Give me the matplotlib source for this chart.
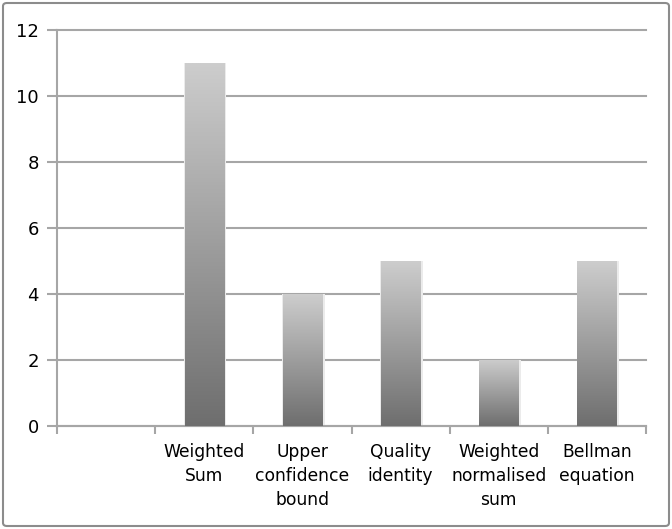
import numpy as np
import matplotlib.pyplot as plt
from matplotlib.patches import FancyBboxPatch
from matplotlib.colors import LinearSegmentedColormap

# Data
categories = ['', 'Weighted\nSum', 'Upper\nconfidence\nbound', 'Quality\nidentity',
              'Weighted\nnormalised\nsum', 'Bellman\nequation']
values = [0, 11, 4, 5, 2, 5]

plt.rcParams['font.family'] = 'DejaVu Sans'

fig = plt.figure(figsize=(6.72, 5.29), dpi=100)
ax = fig.add_axes([57 / 672, 1 - 426 / 529, (646 - 57) / 672, (426 - 30) / 529])

grid_col = '#a6a6a6'
cmap = LinearSegmentedColormap.from_list('bar', ['#6e6e6e', '#cdcdcd'])
grad = np.linspace(0, 1, 256).reshape(-1, 1)

x = np.arange(len(categories)) + 0.5
width = 0.4
for xi, v in zip(x, values):
    if v <= 0:
        continue
    # soft shadow
    ax.bar(xi + 0.01, v, width=width + 0.03, color='#ebebeb', zorder=2, linewidth=0)
    rect = ax.bar(xi, v, width=width, color='none', zorder=3, linewidth=0)[0]
    im = ax.imshow(grad, cmap=cmap, aspect='auto', origin='lower',
                   extent=[xi - width / 2, xi + width / 2, 0, v], zorder=3)
    im.set_clip_path(rect)

ax.set_xlim(0, 6)
ax.set_ylim(0, 12)
ax.set_yticks(np.arange(0, 13, 2))
ax.yaxis.grid(True, color=grid_col, linewidth=1.5)
for gl in ax.get_ygridlines():
    gl.set_clip_on(False)
ax.set_axisbelow(True)

ax.set_xticks(np.arange(0, 7))
ax.set_xticklabels([])
ax.set_xticks(x, minor=True)
ax.set_xticklabels(categories, minor=True, fontsize=12.3, linespacing=1.45)
ax.tick_params(axis='x', which='minor', length=0, pad=12)
ax.tick_params(axis='x', which='major', length=6, width=1.5, color=grid_col)
ax.tick_params(axis='y', length=7, width=1.5, color=grid_col, labelsize=13, pad=6)

for s in ['top', 'right']:
    ax.spines[s].set_visible(False)
for s in ['left', 'bottom']:
    ax.spines[s].set_color(grid_col)
    ax.spines[s].set_linewidth(1.5)

# figure border
border = FancyBboxPatch((3 / 672, 3 / 529), 1 - 6 / 672, 1 - 6 / 529,
                        boxstyle='round,pad=0,rounding_size=0.006',
                        transform=fig.transFigure, fill=False,
                        edgecolor='#8c8c8c', linewidth=1.5)
fig.patches.append(border)

plt.savefig('out.png', dpi=100)
